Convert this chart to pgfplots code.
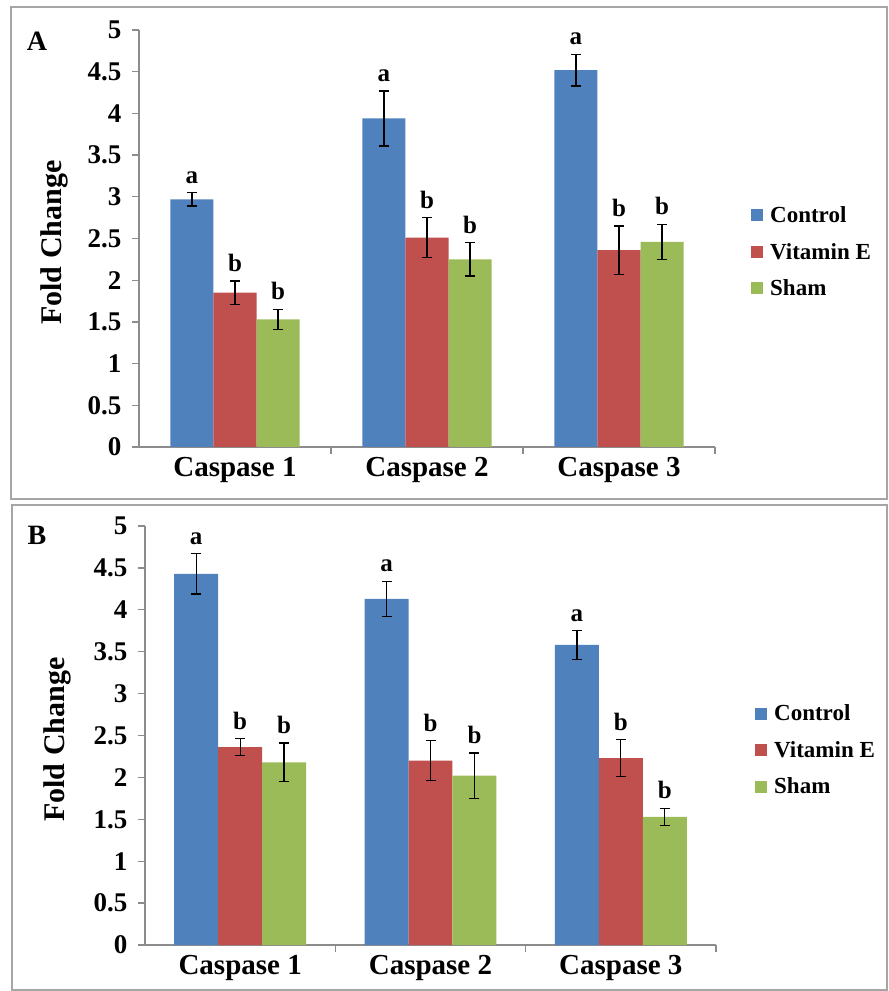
\documentclass[border=0pt]{standalone}
\usepackage{fontspec}
\setmainfont{Liberation Serif}
\usepackage{pgfplots}
\pgfplotsset{compat=1.18}
\usepackage{pgfplotstable}

\definecolor{ctrl}{HTML}{4F81BD}
\definecolor{vite}{HTML}{C0504D}
\definecolor{sham}{HTML}{9BBB59}
\definecolor{axgray}{HTML}{8C8C8C}
\definecolor{framegray}{HTML}{A6A6A6}

% mean and error for each group, letters above the bars
\pgfplotstableread{
x c ce v ve s se cl vl sl
0 2.97 0.08 1.85 0.14 1.53 0.12 a b b
1 3.94 0.33 2.51 0.24 2.25 0.20 a b b
2 4.52 0.19 2.36 0.29 2.46 0.21 a b b
}\panelA
\pgfplotstableread{
x c ce v ve s se cl vl sl
0 4.43 0.24 2.36 0.10 2.18 0.23 a b b
1 4.13 0.21 2.20 0.24 2.02 0.27 a b b
2 3.58 0.17 2.23 0.22 1.53 0.10 a b b
}\panelB

\pgfplotsset{
  casp/.style={
    scale only axis,
    xmin=-0.5, xmax=2.5, ymin=0, ymax=5,
    axis x line*=bottom, axis y line*=left,
    axis line style={axgray, line width=1.3bp},
    xtick={0,1,2},
    xticklabels={Caspase 1, Caspase 2, Caspase 3},
    major x tick style={draw=none},
    minor xtick={0.5,1.5,2.5},
    minor tick length=7bp,
    minor x tick style={axgray, line width=1.3bp},
    ytick={0,0.5,1,1.5,2,2.5,3,3.5,4,4.5,5},
    y tick style={axgray, line width=1.3bp},
    major tick length=7bp,
    tick align=outside,
    /pgf/number format/assume math mode=true,
    yticklabel style={font=\bfseries\fontsize{27bp}{27bp}\selectfont, black, xshift=-7bp},
    xticklabel style={font=\bfseries\fontsize{29bp}{29bp}\selectfont, black},
    ylabel={Fold Change},
    legend style={draw=none, fill=none, anchor=west,
      font=\bfseries\fontsize{23bp}{25bp}\selectfont, row sep=15bp,
      /tikz/every odd column/.append style={column sep=5bp}},
    legend cell align=left,
    legend image code/.code={\draw[##1, draw=none] (0bp,-6bp) rectangle (12bp,6bp);},
  },
  ylab/.style={every axis y label/.style={at={(rel axis cs:0,0.49)}, xshift=#1,
      rotate=90, anchor=center, font=\bfseries\fontsize{30bp}{30bp}\selectfont}},
  bars/.style={ybar, bar width=#1, bar shift=0pt, draw=none,
    error bars/.cd, y dir=both, y explicit,
    error bar style={black, line width=1.3bp},
    error mark options={rotate=90, black, mark size=5bp, line width=1.3bp},
  },
  lab/.style={
    only marks, mark size=0pt, mark options={draw=none, fill=none}, forget plot,
    nodes near coords, point meta=explicit symbolic,
    every node near coord/.append style={font=\bfseries\fontsize{25bp}{25bp}\selectfont,
      black, anchor=south, inner sep=0pt, yshift=9bp},
  },
}

\begin{document}
\begin{tikzpicture}
\useasboundingbox (0,0) rectangle (889bp,991bp);
\draw[framegray, line width=2bp] (11bp,492bp) rectangle (887bp,984bp);
\draw[framegray, line width=2bp] (12bp,1bp) rectangle (887bp,486bp);
\node[font=\bfseries\fontsize{28bp}{28bp}\selectfont] at (37bp,950bp) {A};
\node[font=\bfseries\fontsize{28bp}{28bp}\selectfont] at (37bp,456bp) {B};

\begin{axis}[casp, ylab=-85bp, at={(139bp,544bp)}, anchor=south west,
  width=576bp, height=417bp,
  legend style={at={(1,0.468)}, xshift=33bp}]
\addplot[fill=ctrl, bars=0.224]
  table[x expr=\thisrow{x}-0.224, y=c, y error=ce]{\panelA};
\addplot[fill=vite, bars=0.224]
  table[x=x, y=v, y error=ve]{\panelA};
\addplot[fill=sham, bars=0.224]
  table[x expr=\thisrow{x}+0.224, y=s, y error=se]{\panelA};
\legend{Control, Vitamin E, Sham}
\addplot[lab] table[x expr=\thisrow{x}-0.224, y expr=\thisrow{c}+\thisrow{ce}, meta=cl]{\panelA};
\addplot[lab] table[x expr=\thisrow{x}, y expr=\thisrow{v}+\thisrow{ve}, meta=vl]{\panelA};
\addplot[lab] table[x expr=\thisrow{x}+0.224, y expr=\thisrow{s}+\thisrow{se}, meta=sl]{\panelA};
\end{axis}

\begin{axis}[casp, ylab=-88bp, at={(145bp,46bp)}, anchor=south west,
  width=571bp, height=419bp,
  legend style={at={(1,0.465)}, xshift=36bp}]
\addplot[fill=ctrl, bars=0.231]
  table[x expr=\thisrow{x}-0.231, y=c, y error=ce]{\panelB};
\addplot[fill=vite, bars=0.231]
  table[x=x, y=v, y error=ve]{\panelB};
\addplot[fill=sham, bars=0.231]
  table[x expr=\thisrow{x}+0.231, y=s, y error=se]{\panelB};
\legend{Control, Vitamin E, Sham}
\addplot[lab] table[x expr=\thisrow{x}-0.231, y expr=\thisrow{c}+\thisrow{ce}, meta=cl]{\panelB};
\addplot[lab] table[x expr=\thisrow{x}, y expr=\thisrow{v}+\thisrow{ve}, meta=vl]{\panelB};
\addplot[lab] table[x expr=\thisrow{x}+0.231, y expr=\thisrow{s}+\thisrow{se}, meta=sl]{\panelB};
\end{axis}
\end{tikzpicture}
\end{document}
